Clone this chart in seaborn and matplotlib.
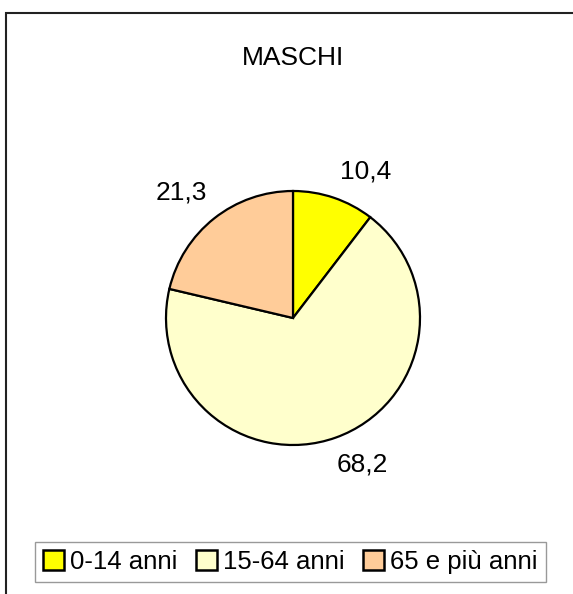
import matplotlib
matplotlib.use("Agg")
import matplotlib.pyplot as plt
import seaborn as sns
from matplotlib.patches import Rectangle, Patch

categories = ["0-14 anni", "15-64 anni", "65 e più anni"]
values = [10.4, 68.2, 21.3]
colors = ["#FFFF00", "#FFFFCC", "#FFCC99"]
title = "MASCHI"

sns.set_theme(style="white")
plt.rcParams["font.family"] = ["Liberation Sans", "DejaVu Sans"]
plt.rcParams["text.color"] = "black"

W, H = 573, 594
fig = plt.figure(figsize=(W / 100, H / 100), dpi=100)
fig.patch.set_facecolor("white")

# pie axes: center (293,318) px, radius 127 px
cx, cy, r = 293, 318, 127
ax = fig.add_axes([(cx - r) / W, (H - cy - r) / H, 2 * r / W, 2 * r / H])
labels = [f"{v:.1f}".replace(".", ",") for v in values]
wedges, texts = ax.pie(values, colors=colors, startangle=90, counterclock=False,
                       labels=labels, labeldistance=1.3,
                       wedgeprops=dict(edgecolor="black", linewidth=1.6),
                       textprops=dict(fontsize=19, color="black"))
ax.set_xlim(-1, 1)
ax.set_ylim(-1, 1)
ax.set_aspect("equal")
ax.axis("off")
label_pos = [(0.575, 1.15), (0.543, -1.157), (-0.882, 0.992)]
for t, p in zip(texts, label_pos):
    t.set_position(p)
    t.set_ha("center")
    t.set_va("center")
    t.set_clip_on(False)

fig.text(cx / W, 1 - 58 / H, title, ha="center", va="center", fontsize=19, color="black")

handles = [Patch(facecolor=c, edgecolor="black", linewidth=1.8) for c in colors]
leg = fig.legend(handles, categories, loc="center", bbox_to_anchor=(290.5 / W, 1 - 562 / H),
                 ncol=3, fontsize=18.5, frameon=True, fancybox=False, shadow=False,
                 handlelength=0.8, handleheight=0.8, handletextpad=0.25,
                 columnspacing=0.72, borderpad=0.32, borderaxespad=0, labelcolor="black")
leg.get_frame().set_edgecolor("#808080")
leg.get_frame().set_linewidth(1.0)

frame = Rectangle((6 / W, -0.1), 2.0, (H - 13) / H + 0.1, transform=fig.transFigure,
                  fill=False, edgecolor="#222222", linewidth=1.5)
fig.patches.append(frame)

fig.savefig("out.png", dpi=100, facecolor="white")
